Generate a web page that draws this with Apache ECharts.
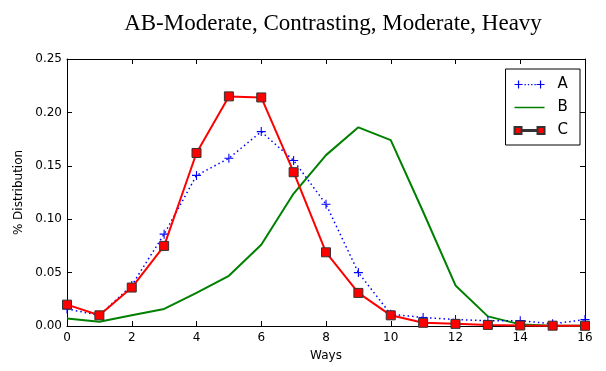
<!DOCTYPE html>
<html><head><meta charset="utf-8">
<script src="https://cdn.jsdelivr.net/npm/echarts@6/dist/echarts.min.js"></script>
<style>html,body{margin:0;padding:0;background:#fff}#c{width:606px;height:371px}</style>
</head><body><div id="c"></div>
<script>
const ways = [0,1,2,3,4,5,6,7,8,9,10,11,12,13,14,15,16];
const seriesA = [0.016,0.010,0.038,0.086,0.141,0.157,0.182,0.155,0.114,0.050,0.011,0.008,0.006,0.005,0.005,0.002,0.006];
const seriesB = [0.007,0.004,0.010,0.016,0.031,0.047,0.076,0.124,0.160,0.186,0.174,0.107,0.038,0.009,0.0015,0.0003,0.0002];
const seriesC = [0.020,0.010,0.036,0.075,0.162,0.215,0.214,0.144,0.069,0.031,0.010,0.003,0.002,0.001,0.0005,0.0003,0.0002];
const seriesNames = ['A','B','C'];

const pts = a => ways.map((w,i)=>[w,a[i]]);
const plus = 'path://M4.4,0 h1.2 v4.4 h4.4 v1.2 h-4.4 v4.4 h-1.2 v-4.4 h-4.4 v-1.2 h4.4 z';
const iconA = 'path://M3.4,1 h1.2 v3.4 h3.4 v1.2 h-3.4 v3.4 h-1.2 v-3.4 h-3.4 v-1.2 h3.4 z' +
  ' M25.4,1 h1.2 v3.4 h3.4 v1.2 h-3.4 v3.4 h-1.2 v-3.4 h-3.4 v-1.2 h3.4 z' +
  ' M10,4.4 h1.3 v1.3 h-1.3 z M13.3,4.4 h1.3 v1.3 h-1.3 z M16.6,4.4 h1.3 v1.3 h-1.3 z M19.9,4.4 h1.3 v1.3 h-1.3 z';
const iconB = 'path://M0,1 L30,1 L30,1 Z M0,4.2 h30 v1.6 h-30 z M0,9 L30,9 L30,9 Z';
const iconC = 'path://M0,1.5 h7 v2.9 h16 v-2.9 h7 v7 h-7 v-2.9 h-16 v2.9 h-7 z';
const font = 'DejaVu Sans';
const axCommon = (inside, len) => ({
  axisLine:{show:true,onZero:false,lineStyle:{color:'#000',width:1}},
  axisTick:{show:true,inside:inside,length:len,lineStyle:{color:'#000',width:1}},
  splitLine:{show:false}
});
const chart = echarts.init(document.getElementById('c'));
chart.setOption({
  animation:false,
  backgroundColor:'#fff',
  title:{text:'AB-Moderate, Contrasting, Moderate, Heavy',left:328,textAlign:'center',top:7,
    textStyle:{fontFamily:'Liberation Serif',fontSize:23,fontWeight:'normal',color:'#000'}},
  grid:{left:67,right:21,top:59,bottom:45},
  legend:{orient:'vertical',right:26,top:69,itemWidth:30,itemHeight:9,itemGap:8,
    padding:[8,12,7,8],borderColor:'#000',borderWidth:1,backgroundColor:'#fff',
    textStyle:{fontFamily:font,fontSize:15,color:'#000',padding:[0,0,0,8]},
    data:[{name:seriesNames[0],icon:iconA},{name:seriesNames[1],icon:iconB},{name:seriesNames[2],icon:iconC}]},
  xAxis:[
    Object.assign({type:'value',min:0,max:16,interval:2,name:'Ways',nameLocation:'middle',nameGap:24,
      nameTextStyle:{fontFamily:font,fontSize:12,color:'#000'},
      axisLabel:{fontFamily:font,fontSize:12,color:'#000',margin:6}},axCommon(false,-5)),
    Object.assign({type:'value',min:0,max:16,interval:2,position:'top',axisLabel:{show:false}},axCommon(true,5))
  ],
  yAxis:[
    Object.assign({type:'value',min:0,max:0.25,interval:0.05,name:'% Distribution',nameLocation:'middle',nameGap:42,
      nameTextStyle:{fontFamily:font,fontSize:12,color:'#000'},
      axisLabel:{fontFamily:font,fontSize:12,color:'#000',margin:5,formatter:v=>v.toFixed(2)}},axCommon(false,-5)),
    Object.assign({type:'value',min:0,max:0.25,interval:0.05,position:'right',axisLabel:{show:false}},axCommon(true,5))
  ],
  series:[
    {name:seriesNames[0],type:'line',data:pts(seriesA),clip:false,symbol:plus,symbolSize:9,
      lineStyle:{color:'#0000ff',width:1.5,type:[1.5,3]},itemStyle:{color:'#0000ff'},z:3},
    {name:seriesNames[1],type:'line',data:pts(seriesB),clip:false,symbol:'none',showSymbol:false,
      lineStyle:{color:'#008000',width:2},itemStyle:{color:'#008000'},z:2},
    {name:seriesNames[2],type:'line',data:pts(seriesC),clip:false,symbol:'rect',symbolSize:9,
      lineStyle:{color:'#ff0000',width:2},itemStyle:{color:'#ff0000',borderColor:'#333',borderWidth:1},z:4}
  ]
});
</script></body></html>
